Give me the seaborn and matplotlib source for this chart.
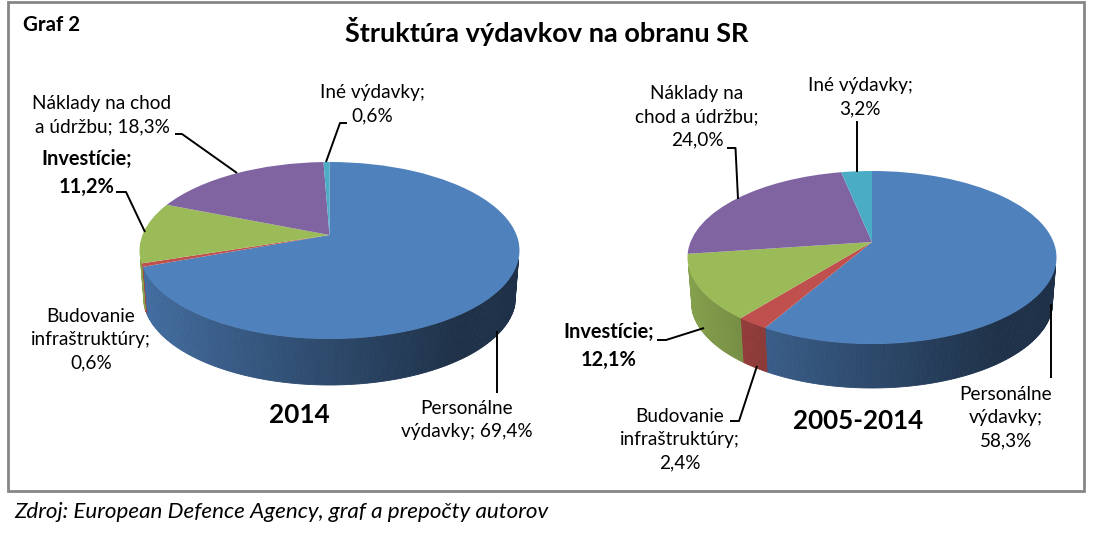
import numpy as np
import seaborn as sns
import matplotlib
matplotlib.use("Agg")
import matplotlib.pyplot as plt
from matplotlib.patches import Rectangle
from matplotlib.transforms import Transform

categories = ["Personálne výdavky", "Budovanie infraštruktúry", "Investície",
              "Náklady na chod a údržbu", "Iné výdavky"]
values_2014 = [69.4, 0.6, 11.2, 18.3, 0.6]
values_avg = [58.3, 2.4, 12.1, 24.0, 3.2]
labels_2014 = ["Personálne\nvýdavky; 69,4%", "Budovanie\ninfraštruktúry;\n0,6%", "Investície;\n11,2%",
               "Náklady na chod\na údržbu; 18,3%", "Iné výdavky;\n0,6%"]
labels_avg = ["Personálne\nvýdavky;\n58,3%", "Budovanie\ninfraštruktúry;\n2,4%", "Investície;\n12,1%",
              "Náklady na\nchod a údržbu;\n24,0%", "Iné výdavky;\n3,2%"]
colors = sns.color_palette(["#4f81bd", "#c0504d", "#9bbb59", "#8064a2", "#4bacc6"])

sns.set_theme(style="white")
plt.rcParams["font.family"] = ["Lato", "DejaVu Sans"]


class Tilt(Transform):
    # perspective view of the unit disc, back edge is further away
    input_dims = output_dims = 2

    def __init__(self, cx, cy, a, b, k):
        super().__init__()
        self.cx, self.cy, self.a, self.b, self.k = cx, cy, a, b, k

    def transform_non_affine(self, xy):
        xy = np.asarray(xy, dtype=float)
        w = 1 + self.k * xy[:, 1]
        return np.column_stack([self.cx + self.a * xy[:, 0] / w, self.cy - self.b * xy[:, 1] / w])


def shade(x):
    # side wall gets darker to the right
    return np.interp(x, [-1, 0.6], [0.88, 0.38])


def pie3d(ax, values, cx, cy, rx, top, bottom, depth):
    k = ((bottom - cy) - (cy - top)) / ((bottom - cy) + (cy - top))
    b = (cy - top) * (1 + k)
    a = rx * np.sqrt(1 - k ** 2)
    tilt = Tilt(cx, cy, a, b, k)
    low = Tilt(cx, cy + depth, a * 0.98, b, k)

    wedges, _ = ax.pie(values, colors=colors, startangle=90, counterclock=False,
                       wedgeprops={"linewidth": 0})
    for w, c in zip(wedges, colors):
        w.set_transform(tilt + ax.transData)
        t = np.radians(np.arange(w.theta1, w.theta2 + 0.5, 0.75))
        t = np.clip(t, np.radians(w.theta1), np.radians(w.theta2))
        for t0, t1 in zip(t[:-1], t[1:]):
            # only the part of the wall that faces the viewer
            if np.sin(t0) > -k - 0.1 and np.sin(t1) > -k - 0.1:
                continue
            unit = np.array([[np.cos(t0), np.sin(t0)], [np.cos(t1), np.sin(t1)]])
            p = tilt.transform_non_affine(unit)
            q = low.transform_non_affine(unit)[::-1]
            face = np.clip(np.array(c) * shade(unit[:, 0].mean()), 0, 1)
            ax.fill(*np.vstack([p, q]).T, color=face, lw=0.6, zorder=0.5)


fig = plt.figure(figsize=(10.95, 5.4), dpi=100, facecolor="white")
ax = fig.add_axes([0, 0, 1, 1])

pie3d(ax, values_2014, 329.5, 235, 190, 162, 339, 46)
pie3d(ax, values_avg, 872, 242, 184.5, 171, 344, 44)

ax.set_aspect("auto")
ax.set_xlim(0, 1095)
ax.set_ylim(540, 0)
ax.axis("off")

ax.add_patch(Rectangle((8, 2), 1076, 489, fill=False, ec="#868686", lw=2, zorder=3))

ax.text(23, 25, "Graf 2", fontsize=14.8, fontweight="bold", va="center", color="black")
ax.text(547, 31, "Štruktúra výdavkov na obranu SR", fontsize=19.5, fontweight="bold",
        ha="center", va="center", color="black")
ax.text(299, 415, "2014", fontsize=18.8, fontweight="bold", ha="center", va="center", color="black")
ax.text(858, 421, "2005-2014", fontsize=18.6, fontweight="bold", ha="center", va="center", color="black")
ax.text(14, 512, "Zdroj: European Defence Agency, graf a prepočty autorov", fontsize=16.1,
        style="italic", va="center", color="black")

# slice labels and their leader lines
label_pos_2014 = [(467, 420), (91, 340), (87, 173), (102, 115), (372, 104)]
label_pos_avg = [(1006, 418), (680, 440), (609, 346), (697, 117), (860, 97)]
for labels, pos in [(labels_2014, label_pos_2014), (labels_avg, label_pos_avg)]:
    for i, (txt, (x, y)) in enumerate(zip(labels, pos)):
        ax.text(x, y, txt, fontsize=14.4 if i == 2 else 13.7, ha="center", va="center", linespacing=1.45,
                fontweight="bold" if i == 2 else "normal", color="black")

leaders = [
    [(326, 162), (340, 123), (347, 123)],
    [(237, 173), (182, 134), (175, 134)],
    [(145, 232), (126, 192), (116, 192)],
    [(496.5, 331), (496.5, 393)],
    [(738, 199), (735.5, 148), (727, 148)],
    [(857, 172), (857, 121)],
    [(704, 328), (666, 340), (657, 340)],
    [(757, 366), (739, 421), (730, 421)],
    [(1051, 304), (1051, 378)],
]
for pts in leaders:
    ax.plot(*zip(*pts), color="black", lw=1.4, solid_capstyle="butt", zorder=4)

fig.savefig("out.png", dpi=100)
